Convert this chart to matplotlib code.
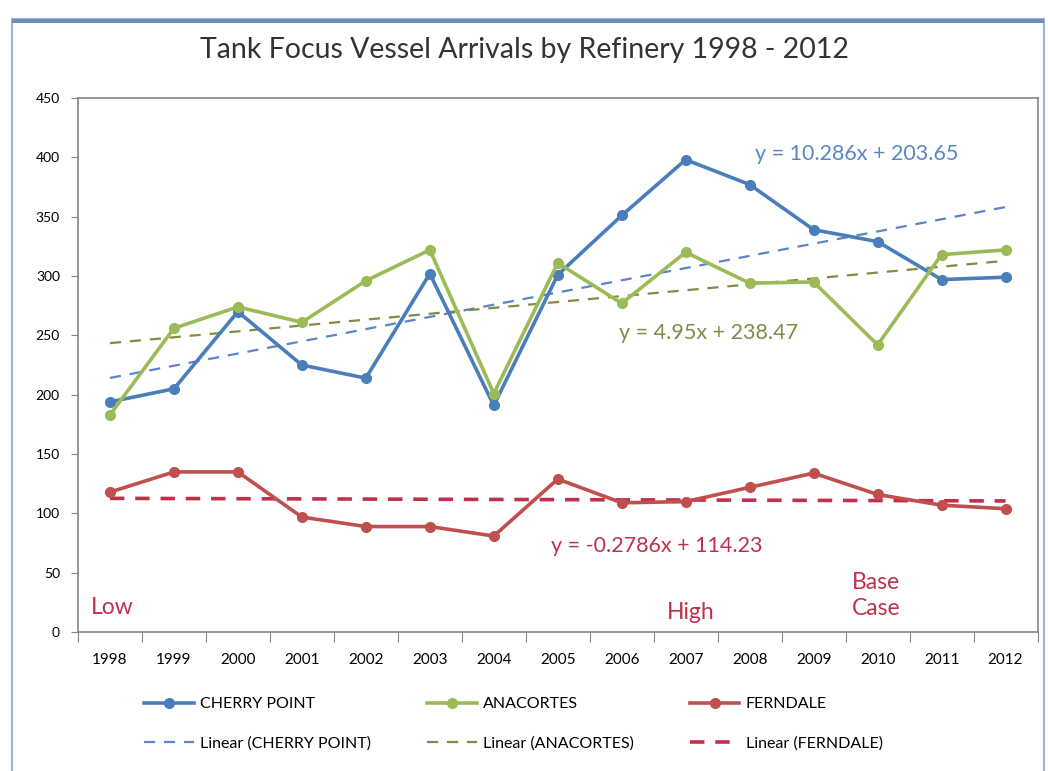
import numpy as np
import matplotlib
matplotlib.use("Agg")
import matplotlib.pyplot as plt
from matplotlib.patches import Rectangle

plt.rcParams['font.family'] = ['Lato', 'DejaVu Sans']

# data
years = ['1998', '1999', '2000', '2001', '2002', '2003', '2004', '2005',
         '2006', '2007', '2008', '2009', '2010', '2011', '2012']
cherry_point = [194, 205, 270, 225, 214, 302, 191, 301, 351, 398, 377, 339, 329, 297, 299]
anacortes = [183, 256, 274, 261, 296, 322, 201, 311, 277, 320, 294, 295, 242, 318, 322]
ferndale = [118, 135, 135, 97, 89, 89, 81, 129, 109, 110, 122, 134, 116, 107, 104]

blue, green, red = '#4A7EBB', '#9BBB59', '#C0504D'
blue_t, green_t, red_t = '#5B85C8', '#7F8C45', '#C0304D'

fig = plt.figure(figsize=(10.48, 7.71), dpi=100)
ax = fig.add_axes([0.0744, 0.180, 0.9156, 0.693])

# chart frame
fig.patches.append(Rectangle((0.011, -0.01), 0.985, 0.985, transform=fig.transFigure,
                             fill=False, edgecolor='#9DB3CF', linewidth=1.5))
fig.patches.append(Rectangle((0.011, 0.970), 0.985, 0.005, transform=fig.transFigure,
                             facecolor='#6C8EBF', edgecolor='none'))

x = np.arange(len(years))
series = [(cherry_point, blue, blue_t, 'CHERRY POINT'),
          (anacortes, green, green_t, 'ANACORTES'),
          (ferndale, red, red_t, 'FERNDALE')]

handles = []
for vals, c, ct, name in series:
    ln, = ax.plot(x, vals, '-o', color=c, lw=2.6, ms=7, label=name, zorder=3)
    k, b = np.polyfit(x + 1, vals, 1)
    xt = np.array([0, len(years) - 1])
    lw = 2.6 if name == 'FERNDALE' else 1.6
    tl, = ax.plot(xt, k * (xt + 1) + b, '--', color=ct, lw=lw,
                  dashes=(4, 3) if lw > 2 else (5, 4),
                  label='Linear (%s)' % name, zorder=2)
    handles += [ln, tl]

ax.set_xlim(-0.5, len(years) - 0.5)
ax.set_ylim(0, 450)
ax.set_yticks(np.arange(0, 451, 50))
ax.tick_params(axis='y', labelsize=10, length=5, color='#868686', pad=8)
ax.set_xticks(np.arange(-0.5, len(years), 1))
ax.set_xticklabels([])
ax.tick_params(axis='x', which='major', length=7, color='#868686')
ax.set_xticks(x, minor=True)
ax.set_xticklabels(years, minor=True, fontsize=11)
ax.tick_params(axis='x', which='minor', length=0, pad=15)
for s in ax.spines.values():
    s.set_color('#868686')
    s.set_linewidth(1.2)

fig.text(0.5, 0.935, 'Tank Focus Vessel Arrivals by Refinery 1998 - 2012',
         ha='center', va='center', fontsize=20.5, color='#333333')

ax.text(10.08, 403, 'y = 10.286x + 203.65', color=blue_t, fontsize=15.5, va='center')
ax.text(7.95, 252, 'y = 4.95x + 238.47', color=green_t, fontsize=15.5, va='center')
ax.text(6.9, 73, 'y = -0.2786x + 114.23', color=red_t, fontsize=15.5, va='center')
ax.text(-0.3, 21, 'Low', color=red_t, fontsize=16.5, va='center')
ax.text(8.7, 17, 'High', color=red_t, fontsize=16.5, va='center')
ax.text(11.6, 31, 'Base\nCase', color=red_t, fontsize=16.5, va='center', linespacing=1.25)

fig.legend(handles=handles, ncol=3, loc='center', bbox_to_anchor=(0.49, 0.061),
           frameon=False, fontsize=11.5, handlelength=3.1, columnspacing=3.5,
           labelspacing=1.6, handletextpad=0.4)

fig.savefig('out.png', dpi=100)
